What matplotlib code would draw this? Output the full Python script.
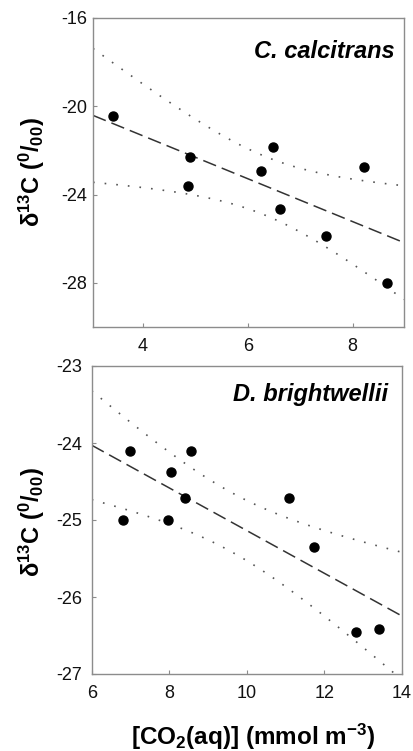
import numpy as np
import matplotlib
matplotlib.use("Agg")
import matplotlib.pyplot as plt

plt.rcParams['font.family'] = ['Liberation Sans', 'DejaVu Sans']
plt.rcParams['mathtext.fontset'] = 'custom'
plt.rcParams['mathtext.rm'] = 'Liberation Sans:bold'
plt.rcParams['mathtext.bf'] = 'Liberation Sans:bold'
plt.rcParams['mathtext.default'] = 'bf'

# --- data: C. calcitrans ---
cc_co2 = [3.43, 4.90, 4.87, 6.26, 6.49, 6.62, 7.49, 8.22, 8.66]
cc_d13c = [-20.42, -22.30, -23.60, -22.95, -21.85, -24.65, -25.88, -22.73, -28.00]
# --- data: D. brightwellii ---
db_co2 = [6.99, 8.55, 8.05, 8.41, 6.80, 7.96, 11.10, 11.74, 12.81, 13.42]
db_d13c = [-24.10, -24.11, -24.375, -24.71, -25.00, -25.00, -24.71, -25.35, -26.45, -26.41]

cc_xticks = [4, 6, 8]
cc_yticks = [-16, -20, -24, -28]
db_xticks = [6, 8, 10, 12, 14]
db_yticks = [-23, -24, -25, -26, -27]
# two-sided 95% Student t for n-2 degrees of freedom
t95 = {7: 2.365, 8: 2.306}

W, H = 413, 751
fig = plt.figure(figsize=(W / 100, H / 100), dpi=100)

def ax_from_px(l, r, t, b):
    return fig.add_axes([l / W, 1 - b / H, (r - l) / W, (b - t) / H])

ax1 = ax_from_px(93, 404, 18, 327)
ax2 = ax_from_px(91.7, 401.7, 366, 674)

spine_c = '#8c8c8c'

def draw(ax, xs, ys, xlim, ylim, xticks, yticks, name, name_pos, ypad):
    xs = np.asarray(xs); ys = np.asarray(ys)
    n = len(xs)
    b, a = np.polyfit(xs, ys, 1)
    xg = np.linspace(xlim[0], xlim[1], 200)
    yfit = a + b * xg
    res = ys - (a + b * xs)
    s = np.sqrt(np.sum(res ** 2) / (n - 2))
    sxx = np.sum((xs - xs.mean()) ** 2)
    ci = t95[n - 2] * s * np.sqrt(1 / n + (xg - xs.mean()) ** 2 / sxx)
    ax.plot(xg, yfit, color='#333333', lw=1.1, ls=(0, (9, 4)), zorder=2)
    ax.plot(xg, yfit + ci, color='#555555', lw=1.2, ls=(0, (1, 6)), zorder=2)
    ax.plot(xg, yfit - ci, color='#555555', lw=1.2, ls=(0, (1, 6)), zorder=2)
    ax.plot(xs, ys, 'o', color='black', ms=6.5, zorder=3, clip_on=False)
    ax.set_xlim(*xlim); ax.set_ylim(*ylim)
    ax.set_xticks(xticks); ax.set_yticks(yticks)
    ax.set_xticklabels([str(v) for v in xticks])
    ax.set_yticklabels([str(v) for v in yticks])
    for sp in ax.spines.values():
        sp.set_color(spine_c); sp.set_linewidth(1.0)
    ax.tick_params(axis='both', direction='in', length=3, width=0.8,
                   color=spine_c, labelsize=13, labelcolor='#111111')
    ax.tick_params(axis='x', pad=8)
    ax.tick_params(axis='y', pad=ypad)
    ax.text(name_pos[0], name_pos[1], name, transform=ax.transAxes,
            ha='right', va='center', fontsize=17, fontweight='bold',
            fontstyle='italic')

draw(ax1, cc_co2, cc_d13c, (3.05, 8.98), (-30, -16), cc_xticks, cc_yticks,
     'C. calcitrans', (0.971, 0.89), 4)
draw(ax2, db_co2, db_d13c, (6, 14), (-27, -23), db_xticks, db_yticks,
     'D. brightwellii', (0.956, 0.906), 7)

ylab = 'δ$^{13}$C ($^{0}$/$_{00}$)'
fig.text(32 / W, 1 - 172 / H, ylab, rotation=90, ha='center', va='center',
         fontsize=17, fontweight='bold')
fig.text(32 / W, 1 - 522 / H, ylab, rotation=90, ha='center', va='center',
         fontsize=17, fontweight='bold')
fig.text(253 / W, 1 - 737 / H, '[CO$_{2}$(aq)] (mmol m$^{-3}$)',
         ha='center', va='center', fontsize=17.5, fontweight='bold')

fig.savefig('out.png', dpi=100)
